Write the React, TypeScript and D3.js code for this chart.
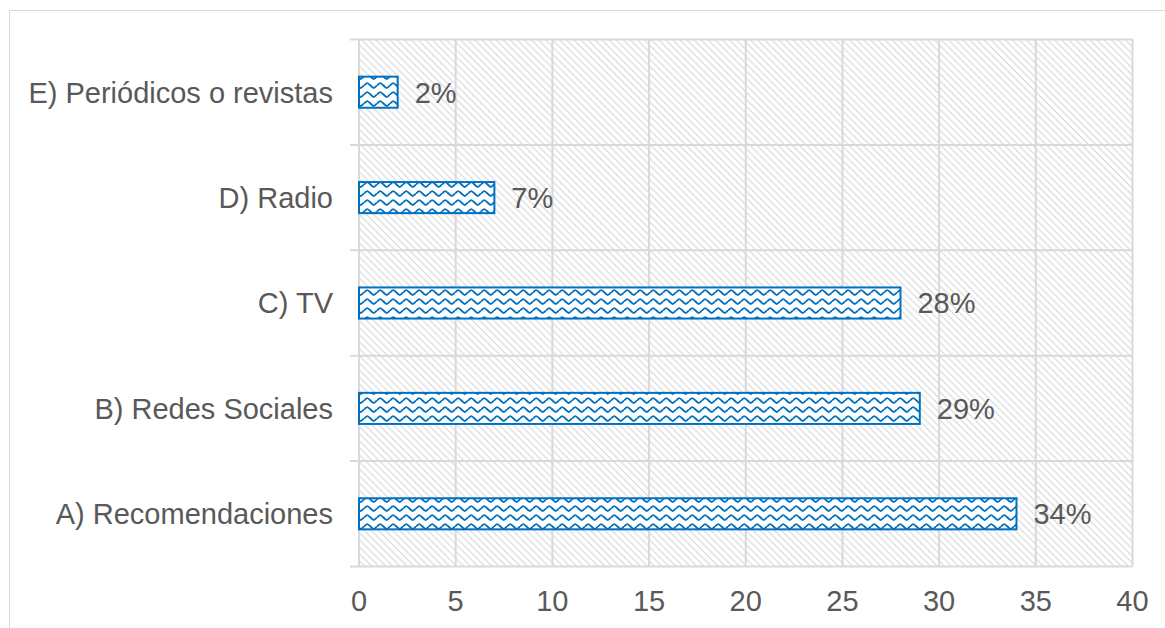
import React from "react";
import * as d3 from "d3";

const categories = [
  "A) Recomendaciones",
  "B) Redes Sociales",
  "C) TV",
  "D) Radio",
  "E) Periódicos o revistas",
];
const values = [34, 29, 28, 7, 2];
const valueLabels = ["34%", "29%", "28%", "7%", "2%"];
const xTicks = [0, 5, 10, 15, 20, 25, 30, 35, 40];

const W = 1165;
const H = 628;
const left = 359;
const right = 1132.5;
const top = 39.5;
const bottom = 566.5;
const textColor = "#595959";
const gridColor = "#d9d9d9";
const blue = "#0070C0";
const font = "Arial, 'Liberation Sans', sans-serif";
const fs = 29;

export default function App() {
  const x = d3.scaleLinear().domain([0, 40]).range([left, right]);
  const y = d3
    .scaleBand<string>()
    .domain([...categories].reverse())
    .range([top, bottom])
    .padding(0);
  const bw = y.bandwidth();
  const barH = bw * 0.295;
  const wave = "M0,4.5 C3.25,1.2 3.25,1.2 6.5,4.5 C9.75,7.8 9.75,7.8 13,4.5";

  return (
    <div style={{ position: "absolute", left: 0, top: 0 }}>
      <svg width={W} height={H} style={{ display: "block", background: "#fff" }}>
        <defs>
          <pattern
            id="hatch"
            patternUnits="userSpaceOnUse"
            width={5}
            height={5}
            patternTransform="rotate(45)"
          >
            <rect width={5} height={5} fill="#fff" />
            <line x1={0} y1={2.5} x2={5} y2={2.5} stroke="#dadada" strokeWidth={1.2} />
          </pattern>
          <pattern id="wave" patternUnits="userSpaceOnUse" width={13} height={9} y={0}>
            <rect width={13} height={9} fill="#fff" />
            <path d={wave} fill="none" stroke={blue} strokeWidth={1.8} />
          </pattern>
        </defs>
        <rect x={9.5} y={10.5} width={W + 20} height={H + 20} fill="#fff" stroke={gridColor} strokeWidth={1} />
        <rect x={left} y={top} width={right - left} height={bottom - top} fill="url(#hatch)" />
        {xTicks.map((t) => (
          <line key={"v" + t} x1={x(t)} x2={x(t)} y1={top} y2={bottom} stroke={gridColor} strokeWidth={2} />
        ))}
        {y.domain().map((c) => (
          <line key={"h" + c} x1={left - 9} x2={right} y1={y(c)!} y2={y(c)!} stroke={gridColor} strokeWidth={2} />
        ))}
        <line x1={left - 9} x2={right} y1={bottom} y2={bottom} stroke={gridColor} strokeWidth={2} />
        {categories.map((c, i) => {
          const cy = y(c)! + bw / 2;
          return (
            <g key={c}>
              <rect
                x={x(0)}
                y={cy - barH / 2}
                width={x(values[i]) - x(0)}
                height={barH}
                fill="url(#wave)"
                stroke={blue}
                strokeWidth={2}
              />
              <text
                x={x(values[i]) + 17}
                y={cy}
                dy="0.36em"
                fontFamily={font}
                fontSize={fs}
                fill={textColor}
              >
                {valueLabels[i]}
              </text>
              <text
                x={333}
                y={cy}
                dy="0.36em"
                textAnchor="end"
                fontFamily={font}
                fontSize={fs}
                fill={textColor}
              >
                {c}
              </text>
            </g>
          );
        })}
        {xTicks.map((t) => (
          <text
            key={"t" + t}
            x={x(t)}
            y={601}
            dy="0.36em"
            textAnchor="middle"
            fontFamily={font}
            fontSize={fs}
            fill={textColor}
          >
            {t}
          </text>
        ))}
      </svg>
    </div>
  );
}
